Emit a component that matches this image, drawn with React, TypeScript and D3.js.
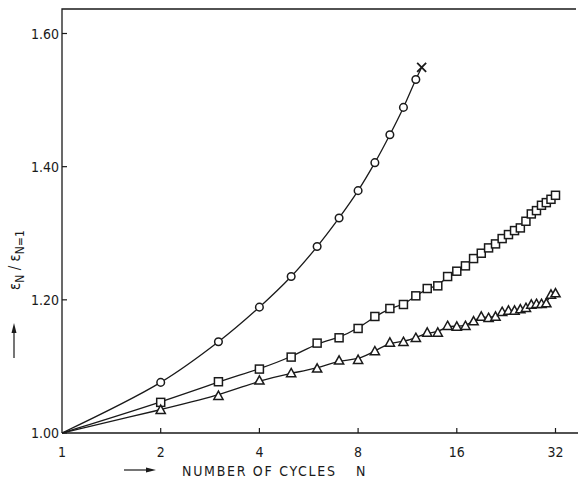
import React from "react";
import * as d3 from "d3";

// Strain ratio eps_N / eps_(N=1) versus number of cycles N
const circleN = [1, 2, 3, 4, 5, 6, 7, 8, 9, 10, 11, 12];
const circleV = [1.0, 1.076, 1.137, 1.189, 1.235, 1.28, 1.323, 1.364, 1.406, 1.448, 1.489, 1.531];
const crossN = 12.5;
const crossV = 1.549;

const squareN = [
  1, 2, 3, 4, 5, 6, 7, 8, 9, 10, 11, 12, 13, 14, 15, 16, 17, 18, 19, 20, 21, 22, 23, 24, 25, 26,
  27, 28, 29, 30, 31, 32,
];
const squareV = [
  1.0, 1.046, 1.077, 1.096, 1.114, 1.135, 1.143, 1.157, 1.175, 1.187, 1.193, 1.206, 1.217, 1.221,
  1.235, 1.243, 1.251, 1.262, 1.27, 1.278, 1.284, 1.292, 1.298, 1.304, 1.308, 1.318, 1.329, 1.334,
  1.342, 1.346, 1.351, 1.357,
];

const triangleN = [
  1, 2, 3, 4, 5, 6, 7, 8, 9, 10, 11, 12, 13, 14, 15, 16, 17, 18, 19, 20, 21, 22, 23, 24, 25, 26,
  27, 28, 29, 30, 31, 32,
];
const triangleV = [
  1.0, 1.035, 1.056, 1.079, 1.09, 1.097, 1.109, 1.11, 1.123, 1.136, 1.137, 1.143, 1.151, 1.151,
  1.161, 1.16, 1.161, 1.168, 1.175, 1.173, 1.175, 1.182, 1.184, 1.184, 1.186, 1.188, 1.193, 1.194,
  1.194, 1.195, 1.208, 1.21,
];

const xTicks = [1, 2, 4, 8, 16, 32];
const yTicks = [1.0, 1.2, 1.4, 1.6];

const W = 578;
const H = 480;
const left = 62;
const bottom = 433;
const top = 9;
const right = 576;
const ink = "#1a1a1a";
const font = "'DejaVu Sans Condensed', 'DejaVu Sans', sans-serif";

export default function App() {
  const x = d3.scaleLog().base(2).domain([1, 32]).range([left, 555.5]);
  const y = d3.scaleLinear().domain([1, 1.6]).range([bottom, 33.5]);

  const pts = (ns: number[], vs: number[]) => ns.map((n, i) => [x(n), y(vs[i])] as [number, number]);

  const circlePts = pts(circleN, circleV);
  const circleLine = d3.line().curve(d3.curveCatmullRom.alpha(0.5))([
    ...circlePts,
    [x(crossN), y(crossV)],
  ]);
  const squarePts = pts(squareN, squareV);
  const squareLine = d3.line().curve(d3.curveBasis)(squarePts);
  const trianglePts = pts(triangleN, triangleV);
  const triangleLine = d3.line().curve(d3.curveBasis)(trianglePts);

  const tri = (cx: number, cy: number) => {
    const s = 4.6;
    return `M${cx},${cy - s}L${cx + s},${cy + s * 0.8}L${cx - s},${cy + s * 0.8}Z`;
  };

  return (
    <div style={{ position: "absolute", left: 0, top: 0 }}>
      <svg width={W} height={H} style={{ display: "block", background: "#fff" }}>
        {/* frame: left axis, top border, bottom axis */}
        <path
          d={`M${left},${bottom}V${top}H${right}M${left},${bottom}H${W}`}
          fill="none"
          stroke={ink}
          strokeWidth={1.3}
        />
        {/* y ticks */}
        {yTicks.map((t) => (
          <g key={`y${t}`}>
            <line x1={left} x2={left + 5} y1={y(t)} y2={y(t)} stroke={ink} strokeWidth={1.2} />
            <text
              x={left - 3}
              y={y(t) + 5}
              textAnchor="end"
              fontFamily={font}
              fontSize={14}
              fill={ink}
            >
              {t.toFixed(2)}
            </text>
          </g>
        ))}
        {/* x ticks */}
        {xTicks.map((t) => (
          <g key={`x${t}`}>
            {t > 1 && (
              <line x1={x(t)} x2={x(t)} y1={bottom} y2={bottom - 5} stroke={ink} strokeWidth={1.2} />
            )}
            <text x={x(t)} y={457} textAnchor="middle" fontFamily={font} fontSize={14} fill={ink}>
              {t}
            </text>
          </g>
        ))}
        {/* x axis title */}
        <path d="M124,470H150" stroke={ink} strokeWidth={1.2} />
        <path d="M156,470L146,467.5L146,472.5Z" fill={ink} />
        <text
          x={182}
          y={476}
          fontFamily={font}
          fontSize={14}
          fill={ink}
          textLength={153}
          lengthAdjust="spacing"
        >
          NUMBER OF CYCLES
        </text>
        <text x={356} y={476} fontFamily={font} fontSize={14} fill={ink}>
          N
        </text>
        {/* y axis title */}
        <text
          transform="translate(20,290) rotate(-90)"
          fontFamily={font}
          fontSize={15}
          fill={ink}
        >
          ε
          <tspan fontSize={12} dy={4}>
            N
          </tspan>
          <tspan dy={-4}> / ε</tspan>
          <tspan fontSize={12} dy={4}>
            N=1
          </tspan>
        </text>
        <path d="M14,358V330" stroke={ink} strokeWidth={1.2} />
        <path d="M14,323L11.5,333L16.5,333Z" fill={ink} />

        {/* curves */}
        <path d={circleLine ?? ""} fill="none" stroke={ink} strokeWidth={1.3} />
        <path d={squareLine ?? ""} fill="none" stroke={ink} strokeWidth={1.3} />
        <path d={triangleLine ?? ""} fill="none" stroke={ink} strokeWidth={1.3} />

        {/* markers */}
        {circlePts.slice(1).map(([cx, cy], i) => (
          <circle key={`c${i}`} cx={cx} cy={cy} r={3.8} fill="#fff" stroke={ink} strokeWidth={1.5} />
        ))}
        {squarePts.slice(1).map(([cx, cy], i) => (
          <rect
            key={`s${i}`}
            x={cx - 4}
            y={cy - 4}
            width={8}
            height={8}
            fill="#fff"
            stroke={ink}
            strokeWidth={1.5}
          />
        ))}
        {trianglePts.slice(1).map(([cx, cy], i) => (
          <path key={`t${i}`} d={tri(cx, cy)} fill="#fff" stroke={ink} strokeWidth={1.5} />
        ))}
        {(() => {
          const cx = x(crossN);
          const cy = y(crossV);
          const s = 4.5;
          return (
            <path
              d={`M${cx - s},${cy - s}L${cx + s},${cy + s}M${cx + s},${cy - s}L${cx - s},${cy + s}`}
              stroke={ink}
              strokeWidth={1.8}
            />
          );
        })()}
      </svg>
    </div>
  );
}
